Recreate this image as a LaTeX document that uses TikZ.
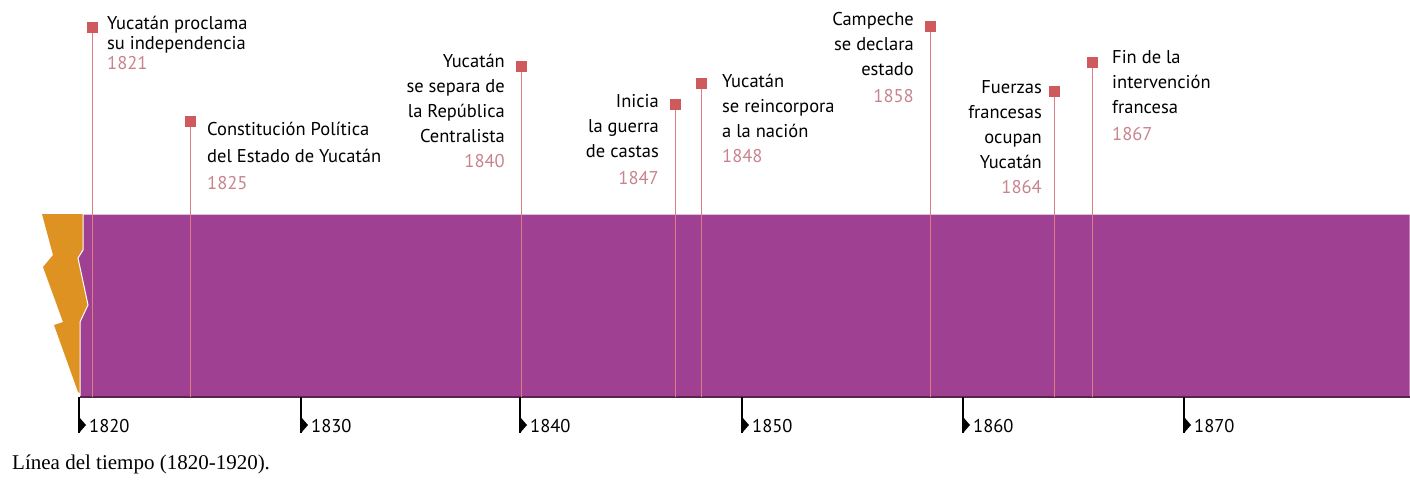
\documentclass[tikz,border=0pt]{standalone}
\usepackage{fontspec}
\setmainfont{Liberation Serif}
\newfontfamily\evfont{PT Sans}
\usetikzlibrary{positioning}

\definecolor{bandpurple}{RGB}{160,64,146}
\definecolor{bandorange}{RGB}{221,146,34}
\definecolor{markred}{RGB}{206,90,94}
\definecolor{stemred}{RGB}{222,124,132}
\definecolor{yeargrey}{RGB}{200,132,142}

\tikzset{
  markbox/.style={fill=markred, inner sep=0pt, minimum size=11pt},
  stem/.style={stemred, line width=1pt},
  evtext/.style={inner sep=0pt, font=\evfont\fontsize{18.5}{25}\selectfont},
  evleft/.style={evtext, anchor=north east, align=right},
  evright/.style={evtext, anchor=north west, align=left},
  yrtick/.style={black, line width=1.2pt},
  yrlabel/.style={inner sep=0pt, anchor=west, font=\evfont\fontsize{18.5}{20}\selectfont}
}
\newcommand{\yr}[1]{\\[2pt]{\color{yeargrey}#1}}

\begin{document}
\begin{tikzpicture}[x=1pt,y=-1pt]
  \useasboundingbox (0,0) rectangle (1410,480);

  % band
  \fill[bandorange] (42,214) -- (83,214) -- (83,250) -- (78,258) -- (88,305) -- (80,322)
    -- (80,393) -- (78,392) -- (54,325) -- (63,322) -- (43,267) -- (53,255) -- cycle;
  \filldraw[fill=bandpurple, draw=white, line width=1pt] (83,214) -- (1410,214) -- (1410,397)
    -- (80,397) -- (80,322) -- (88,305) -- (78,258) -- (83,250) -- cycle;
  \coordinate (bandbottom) at (80,397);
  \draw[bandpurple!55!black, line width=1.5pt] (bandbottom) -- (1410,397);

  % years
  \foreach \year/\x in {1820/79,1830/301,1840/520,1850/742,1860/963,1870/1184}{
    \coordinate (k\year) at (\x,397);
    \draw[yrtick] (k\year) -- ++(0,36) coordinate (e\year);
    \fill (e\year) -- ++(0,-16) -- ++(7,8) -- cycle;
    \node[yrlabel, xshift=10pt, yshift=7pt] (y\year) at (e\year) {\year};
  }

  % events
  \node[markbox] (m1821) at (92,27) {};
  \node[evright, font=\evfont\fontsize{18.5}{20}\selectfont] (t1821) at (107,16)
    {Yucatán proclama\\su independencia\\{\color{yeargrey}1821}};

  \node[markbox] (m1825) at (190,121) {};
  \node[evright, font=\evfont\fontsize{18.5}{27}\selectfont] (t1825) at (207,122)
    {Constitución Política\\del Estado de Yucatán\\{\color{yeargrey}1825}};

  \node[markbox] (m1840) at (521,66) {};
  \node[evleft] (t1840) at (505,54)
    {Yucatán\\se separa de\\la República\\Centralista\\{\color{yeargrey}1840}};

  \node[markbox] (m1847) at (675,104) {};
  \node[evleft] (t1847) at (659,94)
    {Inicia\\la guerra\\de castas\yr{1847}};

  \node[markbox] (m1848) at (701,83) {};
  \node[evright] (t1848) at (722,74)
    {Yucatán\\se reincorpora\\a la nación\\{\color{yeargrey}1848}};

  \node[markbox] (m1858) at (930,26) {};
  \node[evleft] (t1858) at (914,12)
    {Campeche\\se declara\\estado\yr{1858}};

  \node[markbox] (m1864) at (1054,91) {};
  \node[evleft] (t1864) at (1042,80)
    {Fuerzas\\francesas\\ocupan\\Yucatán\\{\color{yeargrey}1864}};

  \node[markbox] (m1867) at (1092,62) {};
  \node[evright] (t1867) at (1112,50)
    {Fin de la\\intervención\\francesa\yr{1867}};

  \foreach \ev in {1821,1825,1840,1847,1848,1858,1864,1867}
    \draw[stem] (m\ev.south) -- (m\ev.south |- bandbottom);

  % caption
  \node[inner sep=0pt, anchor=south west, font=\fontsize{21}{24}\selectfont] (caption)
    at (12,474) {Línea del tiempo (1820-1920).};
\end{tikzpicture}
\end{document}
